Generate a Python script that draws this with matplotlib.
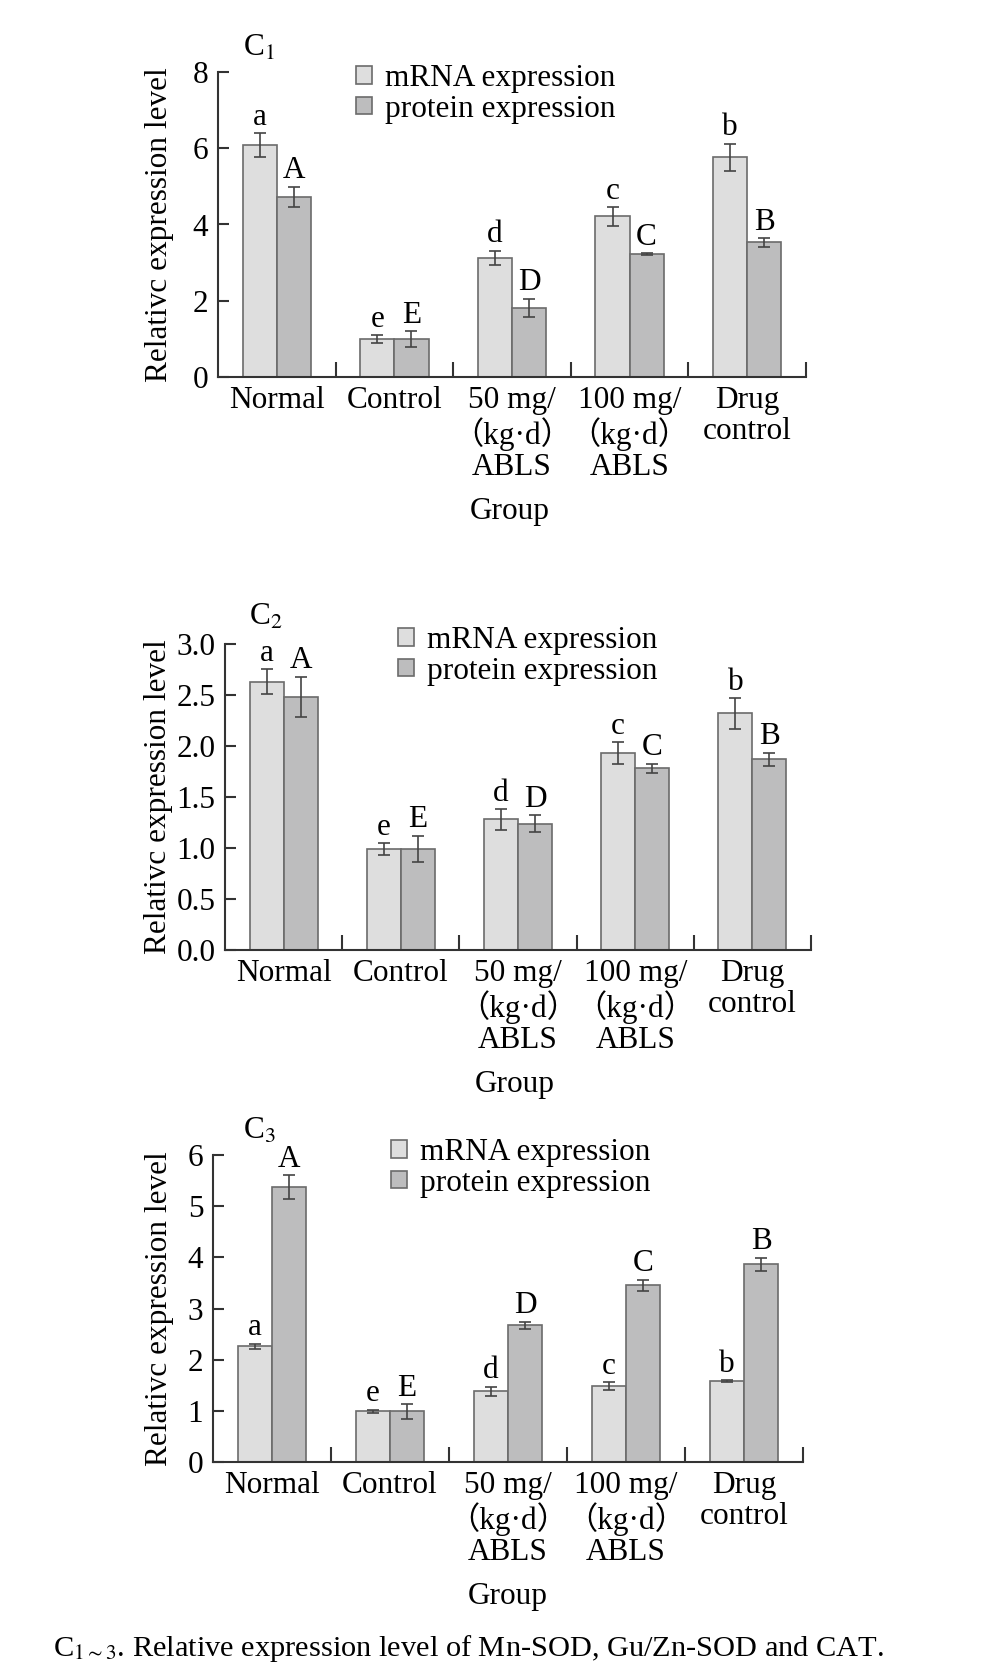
import matplotlib
matplotlib.use("Agg")
import matplotlib.pyplot as plt
from matplotlib.patches import Patch
import numpy as np

plt.rcParams["font.family"] = ["Liberation Serif", "Noto Sans CJK SC"]
plt.rcParams["mathtext.fontset"] = "stix"

W, H = 1004, 1669

groups = ["Normal", "Control", "50 mg/\n（kg·d）\nABLS", "100 mg/\n（kg·d）\nABLS", "Drug\ncontrol"]

# C1: Mn-SOD
mrna1 = [6.08, 0.99, 3.12, 4.21, 5.76]
mrna1_err = [0.31, 0.11, 0.19, 0.24, 0.36]
prot1 = [4.72, 0.99, 1.81, 3.22, 3.53]
prot1_err = [0.27, 0.21, 0.24, 0.02, 0.11]
mrna1_letters = ["a", "e", "d", "c", "b"]
prot1_letters = ["A", "E", "D", "C", "B"]

# C2: Cu/Zn-SOD
mrna2 = [2.63, 0.99, 1.28, 1.93, 2.32]
mrna2_err = [0.12, 0.055, 0.10, 0.11, 0.15]
prot2 = [2.48, 0.99, 1.24, 1.78, 1.87]
prot2_err = [0.20, 0.13, 0.08, 0.045, 0.065]
mrna2_letters = ["a", "e", "d", "c", "b"]
prot2_letters = ["A", "E", "D", "C", "B"]

# C3: CAT
mrna3 = [2.26, 0.99, 1.38, 1.48, 1.58]
mrna3_err = [0.05, 0.03, 0.09, 0.08, 0.02]
prot3 = [5.37, 0.99, 2.67, 3.45, 3.86]
prot3_err = [0.23, 0.14, 0.07, 0.11, 0.13]
mrna3_letters = ["a", "e", "d", "c", "b"]
prot3_letters = ["A", "E", "D", "C", "B"]

MRNA_C = "#dedede"
PROT_C = "#bdbdbe"
EDGE_C = "#6b6b6b"
ERR_C = "#444444"
AX_C = "#333333"
FS = 22.5

fig = plt.figure(figsize=(W / 100, H / 100), dpi=100)


def px_axes(left, right, top, bottom):
    return fig.add_axes([left / W, 1 - bottom / H, (right - left) / W, (bottom - top) / H])


def draw_panel(box, mrna, mrna_err, prot, prot_err, ml, pl, ymax, yticks, yfmt,
               tag, tag_xy, leg_xy, group_xy, ylab_x=174):
    ax = px_axes(*box)
    x = np.arange(len(groups)) + 0.5
    bw = 0.29
    ax.bar(x - bw / 2, mrna, bw, color=MRNA_C, edgecolor=EDGE_C, linewidth=1.2, zorder=2)
    ax.bar(x + bw / 2, prot, bw, color=PROT_C, edgecolor=EDGE_C, linewidth=1.2, zorder=2)
    ax.errorbar(x - bw / 2, mrna, yerr=mrna_err, fmt="none", ecolor=ERR_C,
                elinewidth=1.2, capsize=4, capthick=1.2, zorder=3)
    ax.errorbar(x + bw / 2, prot, yerr=prot_err, fmt="none", ecolor=ERR_C,
                elinewidth=1.2, capsize=4, capthick=1.2, zorder=3)
    for i in range(len(groups)):
        ax.annotate(ml[i], (x[i] - bw / 2, mrna[i] + mrna_err[i]), xytext=(0, 1),
                    textcoords="offset points", ha="center", va="bottom", fontsize=FS)
        ax.annotate(pl[i], (x[i] + bw / 2, prot[i] + prot_err[i]), xytext=(0, 1),
                    textcoords="offset points", ha="center", va="bottom", fontsize=FS)

    ax.set_xlim(0, len(groups))
    ax.set_ylim(0, ymax)
    ax.set_yticks(yticks)
    ax.set_yticklabels([yfmt.format(v) for v in yticks])
    ax.set_xticks(np.arange(1, len(groups) + 1))
    ax.set_xticklabels([])
    ax.set_xticks(x, minor=True)
    ax.set_xticklabels(groups, minor=True, fontsize=FS, linespacing=1.08)
    ax.tick_params(axis="x", which="major", direction="in", length=11, width=1.5, color=AX_C)
    ax.tick_params(axis="x", which="minor", length=0, pad=6.5)
    ax.tick_params(axis="y", direction="in", length=8, width=1.5, color=AX_C,
                   labelsize=FS, pad=7)
    for s in ["top", "right"]:
        ax.spines[s].set_visible(False)
    for s in ["left", "bottom"]:
        ax.spines[s].set_linewidth(1.5)
        ax.spines[s].set_color(AX_C)
    ax.set_ylabel("Relativc expression level", fontsize=FS)
    ax.yaxis.set_label_coords((ylab_x - box[0]) / (box[1] - box[0]), 0.5)

    handles = [Patch(facecolor=MRNA_C, edgecolor=EDGE_C, linewidth=1.2),
               Patch(facecolor=PROT_C, edgecolor=EDGE_C, linewidth=1.2)]
    fig.legend(handles, ["mRNA expression", "protein expression"], loc="upper left",
               bbox_to_anchor=(leg_xy[0] / W, 1 - leg_xy[1] / H), frameon=False,
               fontsize=FS, handlelength=0.5, handleheight=0.5, handletextpad=0.42,
               labelspacing=0.05, borderpad=0, borderaxespad=0)

    fig.text(tag_xy[0] / W, 1 - tag_xy[1] / H, tag, fontsize=FS, ha="center", va="center")
    fig.text(group_xy[0] / W, 1 - group_xy[1] / H, "Group", fontsize=FS, ha="center", va="center")
    return ax


draw_panel((218, 806, 72, 377), mrna1, mrna1_err, prot1, prot1_err,
           mrna1_letters, prot1_letters, 8, [0, 2, 4, 6, 8], "{:.0f}",
           r"C$_{1}$", (259, 48), (356, 64), (510, 511), ylab_x=174)

draw_panel((225, 811, 644, 950), mrna2, mrna2_err, prot2, prot2_err,
           mrna2_letters, prot2_letters, 3.0, [0, 0.5, 1.0, 1.5, 2.0, 2.5, 3.0], "{:.1f}",
           r"C$_{2}$", (266, 617), (398, 626), (515, 1084), ylab_x=173)

draw_panel((213, 803, 1155, 1462), mrna3, mrna3_err, prot3, prot3_err,
           mrna3_letters, prot3_letters, 6, [0, 1, 2, 3, 4, 5, 6], "{:.0f}",
           r"C$_{3}$", (259, 1131), (391, 1138), (508, 1596), ylab_x=174)

fig.text(53 / W, 1 - 1648 / H,
         r"C$_{1\sim 3}$. Relative expression level of Mn-SOD, Gu/Zn-SOD and CAT.",
         fontsize=21.9, ha="left", va="center")

fig.savefig("out.png", dpi=100)
